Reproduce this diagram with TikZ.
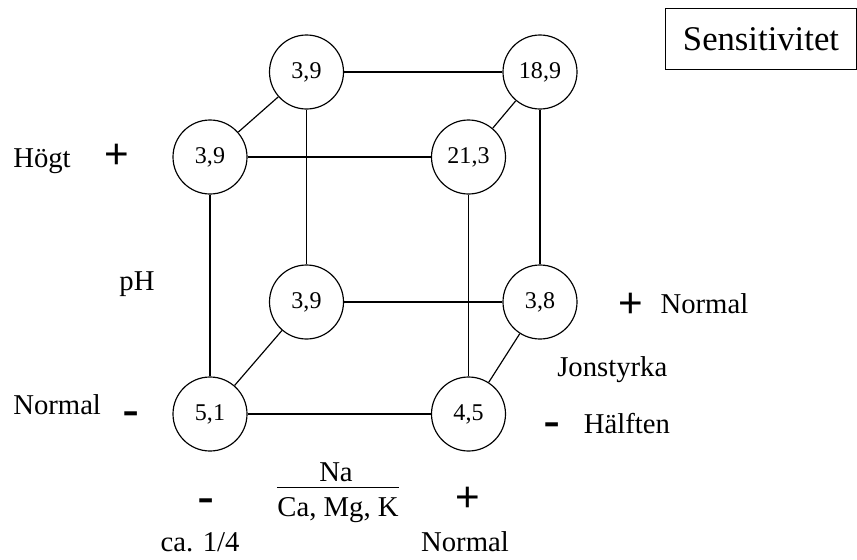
\documentclass[tikz,border=0pt]{standalone}
\usepackage{fontspec}
\setmainfont{Liberation Serif}
\newfontfamily\markfont{Liberation Sans}

\begin{document}
\begin{tikzpicture}[x=0.03cm, y=-0.03cm, line width=1pt,
  cell/.style={circle, draw, minimum size=2.22cm, inner sep=0pt,
    font=\fontsize{20.5}{24}\selectfont},
  lbl/.style={font=\fontsize{24.5}{29}\selectfont, inner sep=0pt},
  plusmark/.style={font=\markfont\fontsize{36}{40}\selectfont, inner sep=0pt},
  minusmark/.style={font=\markfont\fontsize{44}{48}\selectfont, inner sep=0pt}]

\useasboundingbox (0,0) rectangle (857,560);

% Rubrik
\node[draw, minimum width=5.74cm, minimum height=1.83cm, inner sep=0pt,
  font=\fontsize{29.6}{34}\selectfont] (rubrik) at (761,39) {Sensitivitet};

% Kubens hörn: bakre sidan
\node[cell] (bakVO) at (306.5,72) {3,9};
\node[cell] (bakHO) at (540,72) {18,9};
\node[cell] (bakVN) at (306.5,302) {3,9};
\node[cell] (bakHN) at (540,302) {3,8};

% Kubens hörn: främre sidan
\node[cell] (framVO) at (210,157) {3,9};
\node[cell] (framHO) at (468.5,157) {21,3};
\node[cell] (framVN) at (210,414) {5,1};
\node[cell] (framHN) at (468.5,414) {4,5};

% Kanter
\draw (bakVO) -- (bakHO);
\draw (bakVN) -- (bakHN);
\draw (bakVO) -- (bakVN);
\draw (bakHO) -- (bakHN);
\draw (framVO) -- (framHO);
\draw (framVN) -- (framHN);
\draw (framVO) -- (framVN);
\draw (framHO) -- (framHN);
\draw (framVO) -- (bakVO);
\draw (framHO) -- (bakHO);
\draw (framVN) -- (bakVN);
\draw (framHN) -- (bakHN);

% pH (lodrätt)
\node[lbl, anchor=base west] (hogt) at (12.7,167.3) {Högt};
\node[plusmark] (phPlus) at (117.3,156) {+};
\node[lbl, anchor=base] (ph) at (137,290) {pH};
\node[lbl, anchor=base west] (phNormal) at (12.7,414.3) {Normal};
\node[minusmark] (phMinus) at (131,420) {-};

% Jonstyrka (djup)
\node[plusmark] (jsPlus) at (631,305.5) {+};
\node[lbl, anchor=base west] (jsNormal) at (660,313.3) {Normal};
\node[lbl, anchor=base west] (jonstyrka) at (556.7,376.7) {Jonstyrka};
\node[minusmark] (jsMinus) at (552,431) {-};
\node[lbl, anchor=base west] (halften) at (583.3,433.3) {Hälften};

% Na/(Ca, Mg, K) (vågrätt)
\node[lbl, anchor=base] (na) at (336,481.7) {Na};
\node[lbl, anchor=base, inner xsep=0pt, inner ysep=7.4pt] (joner) at (338,516) {Ca, Mg, K};
\draw (joner.north west) -- (joner.north east);
\node[minusmark] (kvotMinus) at (206,507) {-};
\node[plusmark] (kvotPlus) at (468,499) {+};
\node[lbl, anchor=base] (kvart) at (200,551.7) {ca. 1/4};
\node[lbl, anchor=base] (kvotNormal) at (465,551.7) {Normal};

\end{tikzpicture}
\end{document}
